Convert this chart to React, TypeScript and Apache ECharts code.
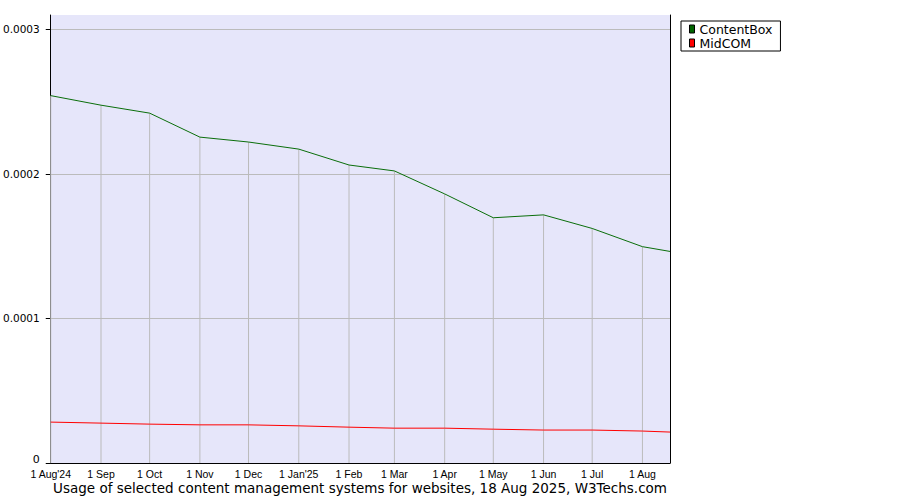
import React, { useEffect, useRef } from "react";
import * as echarts from "echarts";

const monthDates = [
  "2024-08-01", "2024-09-01", "2024-10-01", "2024-11-01", "2024-12-01",
  "2025-01-01", "2025-02-01", "2025-03-01", "2025-04-01", "2025-05-01",
  "2025-06-01", "2025-07-01", "2025-08-01",
];
const endDate = "2025-08-18";
const xTickLabels = [
  "1 Aug'24", "1 Sep", "1 Oct", "1 Nov", "1 Dec", "1 Jan'25", "1 Feb",
  "1 Mar", "1 Apr", "1 May", "1 Jun", "1 Jul", "1 Aug",
];
const contentBox = [
  0.0002542, 0.0002476, 0.0002421, 0.0002255, 0.0002221, 0.0002172, 0.0002062,
  0.0002021, 0.0001862, 0.0001697, 0.0001717, 0.0001623, 0.0001497, 0.0001464,
];
const midCOM = [
  0.0000283, 0.0000276, 0.0000269, 0.0000264, 0.0000264, 0.0000257, 0.0000248,
  0.0000241, 0.0000241, 0.0000234, 0.0000228, 0.0000228, 0.0000221, 0.0000214,
];
const yTicks = [0, 0.0001, 0.0002, 0.0003];
const yMax = 0.00031;
const titleText =
  "Usage of selected content management systems for websites, 18 Aug 2025, W3Techs.com";

const toTs = (s: string) => {
  const [y, m, d] = s.split("-").map(Number);
  return Date.UTC(y, m - 1, d);
};

export default function App() {
  const ref = useRef<HTMLDivElement>(null);
  useEffect(() => {
    if (!ref.current) return;
    const chart = echarts.init(ref.current, null, { renderer: "svg" });
    const allDates = [...monthDates, endDate].map(toTs);
    const monthTs = monthDates.map(toTs);
    const labelMap: Record<number, string> = {};
    monthTs.forEach((t, i) => (labelMap[t] = xTickLabels[i]));

    chart.setOption({
      animation: false,
      backgroundColor: "#ffffff",
      grid: {
        left: 50,
        top: 15,
        right: 230,
        bottom: 37,
        show: true,
        backgroundColor: "#e6e6fa",
        borderWidth: 0,
      },
      legend: {
        data: ["ContentBox", "MidCOM"],
        orient: "vertical",
        left: 681,
        top: 21,
        padding: [1, 8, 1, 8],
        itemGap: 0,
        itemWidth: 5,
        itemHeight: 8,
        icon: "rect",
        borderColor: "#000",
        borderWidth: 1,
        borderRadius: 0,
        itemStyle: { borderColor: "#000", borderWidth: 1 },
        textStyle: {
          fontFamily: "DejaVu Sans",
          fontSize: 12.5,
          lineHeight: 14,
          color: "#000",
        },
      },
      xAxis: {
        type: "value",
        min: toTs(monthDates[0]),
        max: toTs(endDate),
        axisLine: { show: true, lineStyle: { color: "#000", width: 1 } },
        axisTick: { show: false, customValues: monthTs },
        splitLine: { show: false },
        axisLabel: {
          customValues: monthTs,
          formatter: (v: number) => labelMap[v] ?? "",
          fontFamily: "Liberation Sans",
          fontSize: 10.5,
          lineHeight: 10,
          color: "#000",
          margin: 6,
          hideOverlap: false,
          showMinLabel: true,
          showMaxLabel: true,
        },
      },
      yAxis: [
        {
          type: "value",
          min: 0,
          max: yMax,
          axisLine: { show: true, lineStyle: { color: "#000", width: 1 } },
          axisTick: {
            show: true,
            length: 5,
            inside: false,
            customValues: yTicks,
            lineStyle: { color: "#000" },
          },
          splitLine: {
            show: true,
            lineStyle: {
              color: ["#bbbbbb", "#bbbbbb", "#bbbbbb", "#bbbbbb", "#e6e6fa"],
              width: 1,
            },
          },
          axisLabel: {
            customValues: yTicks,
            formatter: (v: number) => (v === 0 ? "{z|0}" : v.toFixed(4)),
            fontFamily: "DejaVu Sans",
            fontSize: 10.5,
            lineHeight: 9,
            color: "#000",
            margin: 11,
            rich: {
              z: {
                fontFamily: "DejaVu Sans",
                fontSize: 11,
                lineHeight: 9,
                padding: [0, 0, 7, 0],
                color: "#000",
              },
            },
          },
        },
        {
          type: "value",
          min: 0,
          max: yMax,
          position: "right",
          axisLine: { show: true, lineStyle: { color: "#000", width: 1 } },
          axisTick: { show: false },
          splitLine: { show: false },
          axisLabel: { show: false },
        },
      ],
      series: [
        {
          name: "drop",
          type: "bar",
          barWidth: 1,
          z: 1,
          silent: true,
          itemStyle: { color: "#bbbbbb" },
          data: monthTs.map((t, i) => [t, contentBox[i]]),
        },
        {
          name: "ContentBox",
          type: "line",
          z: 3,
          symbol: "none",
          color: "#006400",
          lineStyle: { color: "#0a6e0a", width: 1 },
          data: allDates.map((t, i) => [t, contentBox[i]]),
        },
        {
          name: "MidCOM",
          type: "line",
          z: 3,
          symbol: "none",
          color: "#ff0000",
          lineStyle: { color: "#ff0000", width: 1 },
          data: allDates.map((t, i) => [t, midCOM[i]]),
        },
      ],
      graphic: [
        {
          type: "text",
          x: 360,
          y: 488,
          style: {
            text: titleText,
            fill: "#000",
            font: "13.5px 'DejaVu Sans'",
            textAlign: "center",
            textVerticalAlign: "middle",
          },
        },
      ],
    });
    return () => chart.dispose();
  }, []);

  return (
    <div
      ref={ref}
      style={{ position: "fixed", left: 0, top: 0, width: 900, height: 500 }}
    />
  );
}
